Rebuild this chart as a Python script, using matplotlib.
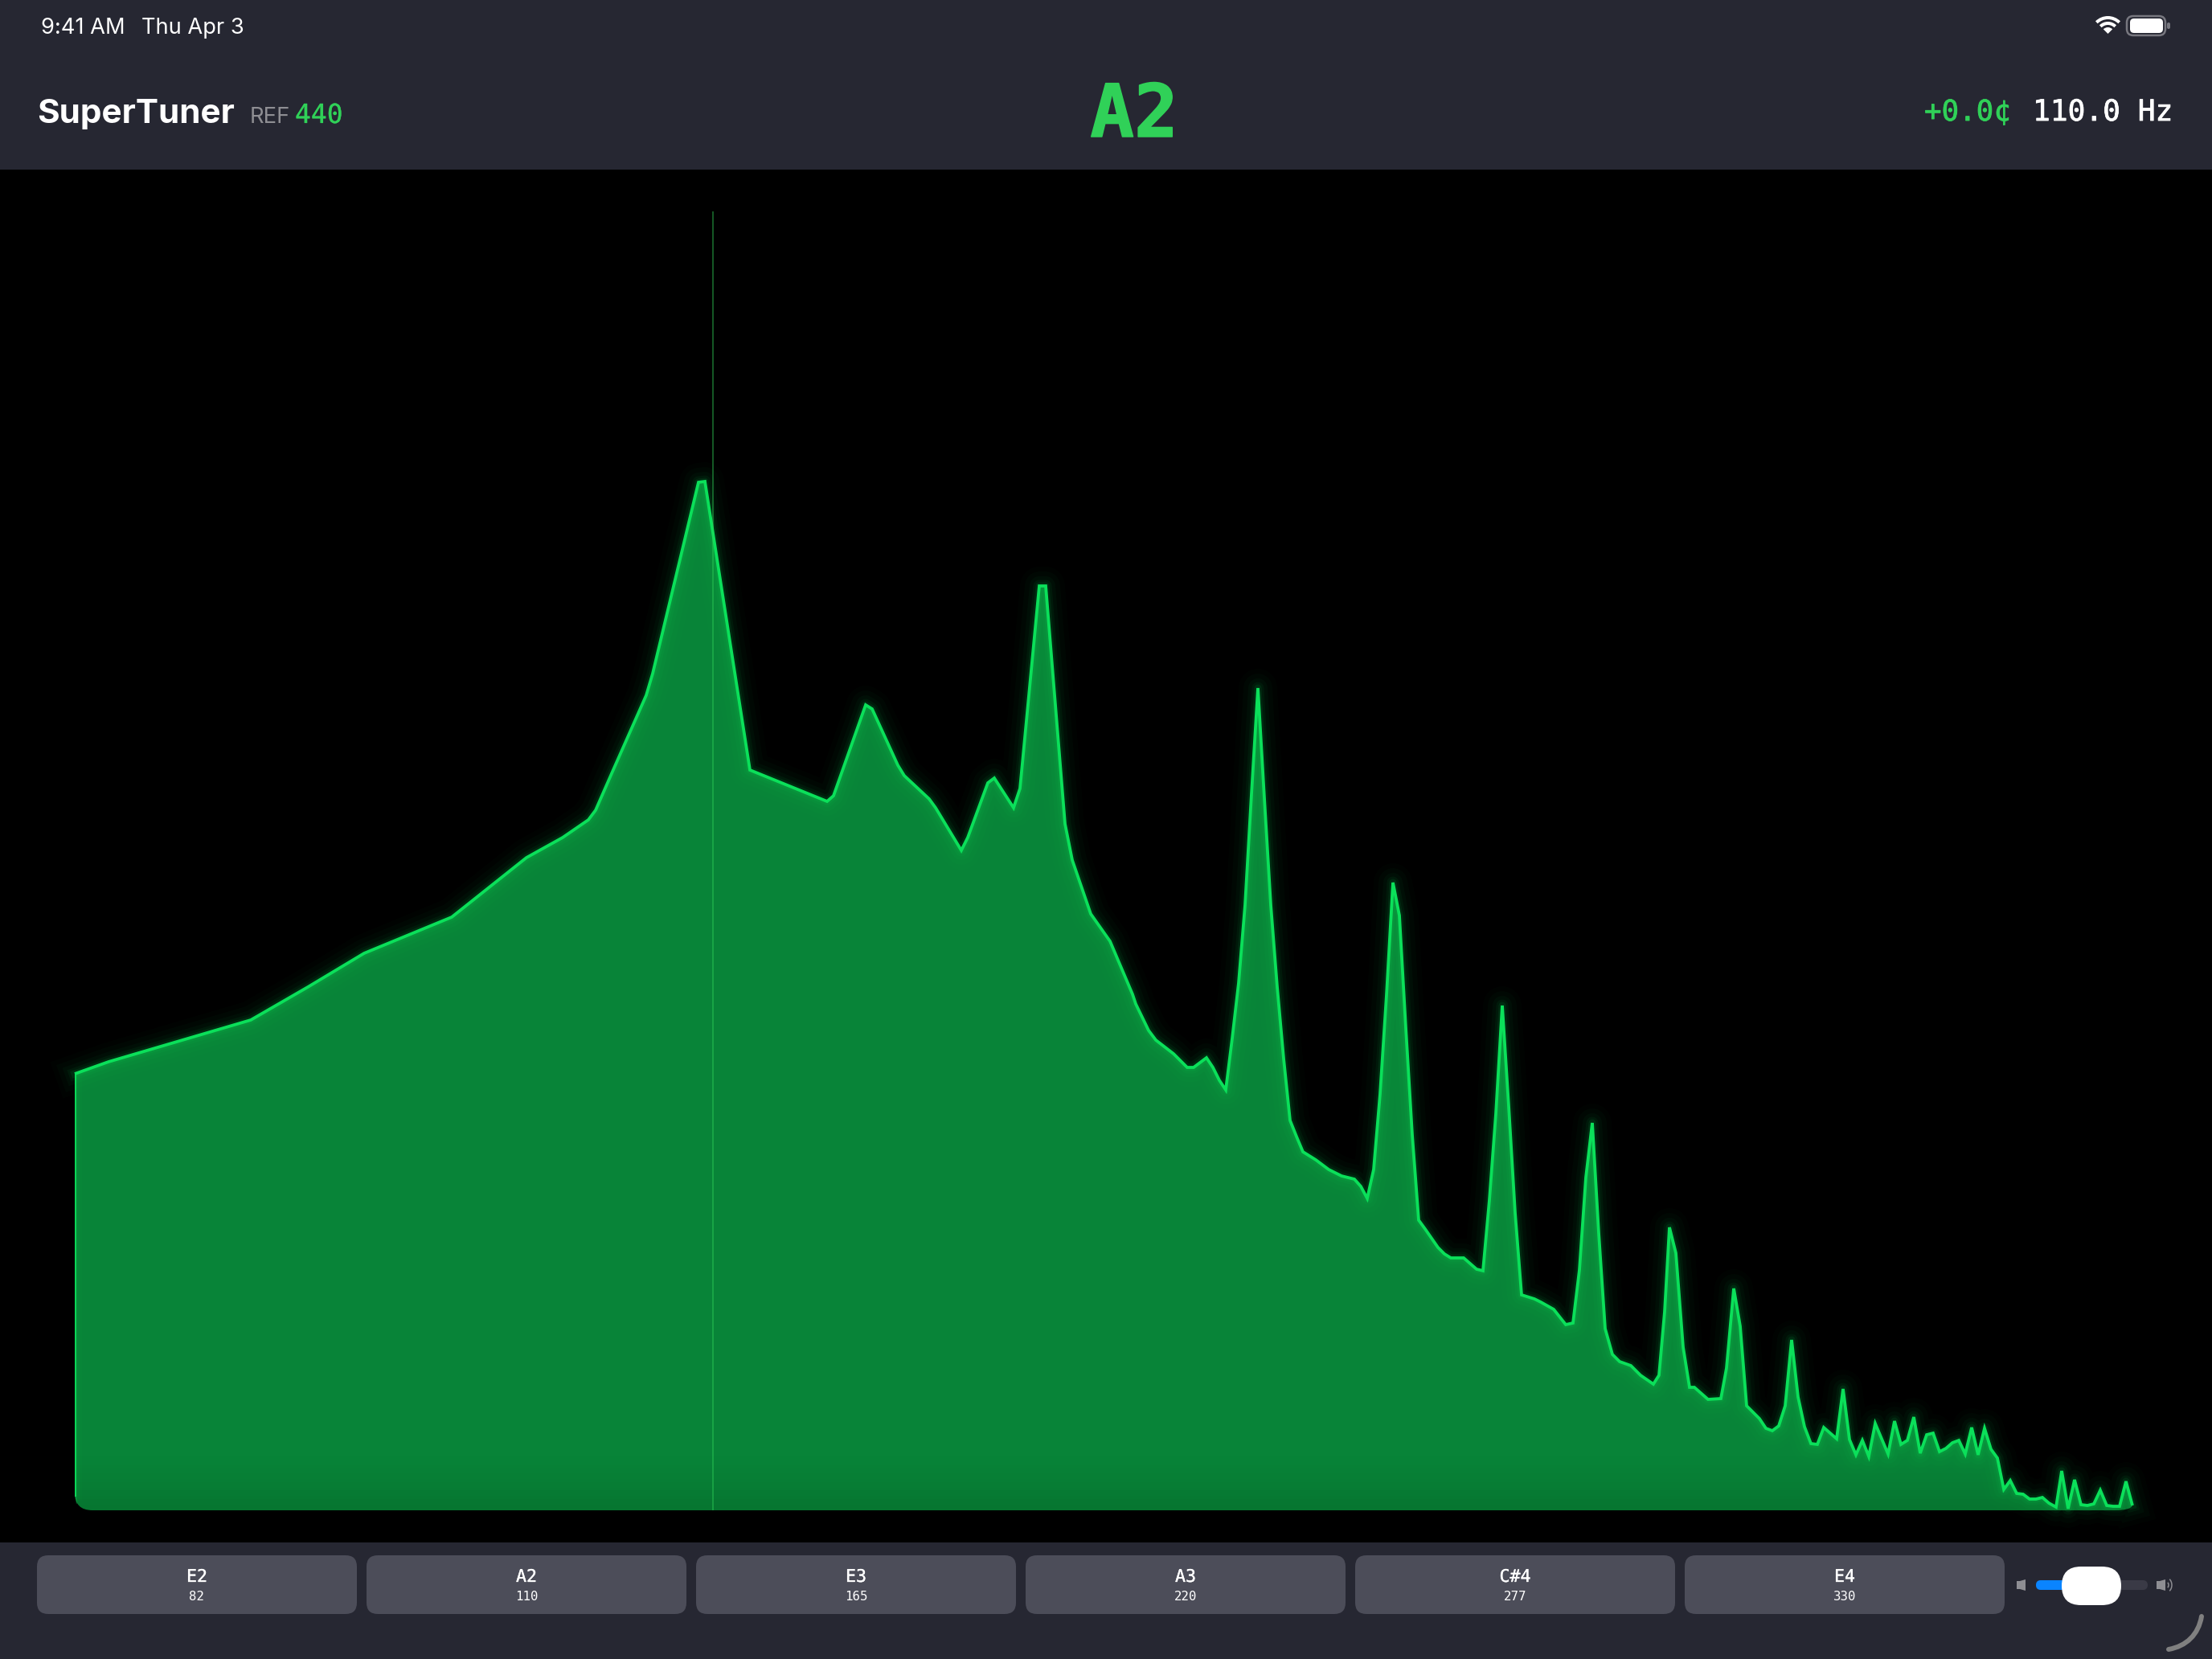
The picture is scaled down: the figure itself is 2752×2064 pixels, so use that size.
#!/usr/bin/env python3
"""SuperTuner spectrum screen: filled spectrum with a cursor at the detected pitch, plus app chrome."""

import numpy as np
import matplotlib

matplotlib.use("Agg")
import matplotlib.pyplot as plt
import matplotlib.patheffects as pe
from matplotlib.colors import LinearSegmentedColormap
from matplotlib.patches import Arc, FancyBboxPatch, PathPatch, Polygon, Rectangle, Wedge
from matplotlib.path import Path

# spectrum: position along the chart and level above the baseline
spec_pos = [
    0, 42, 219, 290, 360, 469, 562, 607, 639, 648, 669, 711, 719, 776, 784, 840, 936, 944, 984, 992,
    1024, 1032, 1063, 1071, 1103, 1111, 1136, 1144, 1168, 1176, 1200, 1208, 1232, 1241, 1264, 1288,
    1316, 1320, 1336, 1345, 1367, 1384, 1392, 1408, 1416, 1424, 1432, 1440, 1448, 1456, 1464, 1472,
    1480, 1488, 1496, 1504, 1512, 1520, 1528, 1544, 1560, 1576, 1584, 1592, 1600, 1608, 1616, 1624,
    1632, 1640, 1648, 1656, 1664, 1672, 1680, 1696, 1704, 1712, 1720, 1728, 1736, 1744, 1752, 1760,
    1768, 1776, 1784, 1792, 1800, 1816, 1824, 1840, 1855, 1864, 1872, 1880, 1888, 1896, 1904, 1913,
    1922, 1936, 1948, 1964, 1971, 1978, 1984, 1992, 2001, 2009, 2015, 2032, 2048, 2055, 2064, 2072,
    2080, 2096, 2104, 2112, 2120, 2128, 2136, 2144, 2152, 2160, 2168, 2176, 2192, 2200, 2208, 2216,
    2224, 2232, 2240, 2256, 2264, 2272, 2280, 2288, 2296, 2304, 2312, 2320, 2328, 2336, 2344, 2352,
    2360, 2368, 2376, 2384, 2392, 2400, 2408, 2416, 2424, 2432, 2440, 2448, 2456, 2465, 2472, 2480,
    2488, 2496, 2504, 2512, 2520, 2528, 2536, 2544, 2552, 2560,
]
spec_level = [
    543, 558, 610, 651, 693, 738, 812, 837, 859, 871, 919, 1014, 1041, 1279, 1280, 921, 882, 889, 1002, 997,
    927, 914, 885, 874, 821, 837, 905, 911, 874, 898, 1150, 1150, 854, 809, 742, 708,
    642, 630, 597, 585, 568, 551, 551, 563, 551, 535, 523, 587, 656, 753, 891, 1023,
    886, 753, 651, 562, 485, 465, 446, 436, 424, 416, 414, 412, 403, 388, 424, 518,
    641, 781, 740, 600, 467, 361, 350, 327, 319, 314, 314, 314, 307, 300, 298, 386,
    493, 628, 503, 370, 268, 263, 259, 250, 231, 233, 299, 414, 482, 345, 226, 194,
    185, 180, 168, 157, 168, 247, 352, 320, 203, 153, 153, 138, 139, 177, 276, 229,
    130, 114, 102, 99, 105, 130, 212, 141, 104, 83, 82, 103, 89, 151, 88, 69,
    87, 67, 108, 70, 111, 82, 87, 116, 71, 94, 96, 73, 77, 84, 87, 70,
    103, 69, 102, 76, 65, 26, 37, 21, 20, 14, 14, 16, 9, 4, 49, 2,
    38, 7, 6, 8, 25, 6, 5, 5, 36, 6,
]
cursor_pos = 794
chart_w = 2560
chart_h = 1616

note_names = ["E2", "A2", "E3", "A3", "C#4", "E4"]
note_freqs = ["82", "110", "165", "220", "277", "330"]

BG = "#262732"
BTN = "#4c4d59"
GREEN = "#30d158"
LINE = "#0be05a"
GRAY = "#8e8e93"
SANS = ["Inter", "DejaVu Sans"]
MONO = ["DejaVu Sans Mono"]
PX = 0.72  # points per pixel at dpi 100

fig = plt.figure(figsize=(27.52, 20.64), dpi=100, facecolor="black")

# chrome is laid out in picture pixels
ui = fig.add_axes([0, 0, 1, 1], zorder=0)
ui.set_xlim(0, 2752)
ui.set_ylim(2064, 0)
ui.axis("off")
ui.add_patch(Rectangle((0, 0), 2752, 211, color=BG, lw=0))
ui.add_patch(Rectangle((0, 1919), 2752, 145, color=BG, lw=0))


def pill(x0, y0, x1, y1, r, color, **kw):
    ui.add_patch(FancyBboxPatch((x0, y0), x1 - x0, y1 - y0, boxstyle=f"round,pad=0,rounding_size={r}",
                                fc=color, ec="none", **kw))


def mono_text(x, y, s, color, size, weight="normal", ha="left", thick=0.0):
    # no medium weight in the mono family, so thicken it a little where needed
    t = ui.text(x, y, s, color=color, fontsize=size * PX, family=MONO, weight=weight, ha=ha, va="baseline")
    if thick:
        t.set_path_effects([pe.withStroke(linewidth=thick * PX, foreground=color)])
    return t


# status bar
ui.text(51, 42, "9:41 AM", color="white", fontsize=27.3 * PX, family=SANS, va="baseline")
ui.text(176, 42, "Thu Apr 3", color="white", fontsize=27.3 * PX, family=SANS, va="baseline")
ui.add_patch(Wedge((2622.5, 42), 8, 225, 315, fc="white", ec="none"))
for r in (13, 20):
    ui.add_patch(Arc((2622.5, 42), 2 * r, 2 * r, theta1=225, theta2=315, color="white", lw=4 * PX))
ui.add_patch(FancyBboxPatch((2646, 20), 48, 24, boxstyle="round,pad=0,rounding_size=8",
                            fc="none", ec="#77777f", lw=2.5 * PX))
pill(2650, 23, 2691, 41, 5, "white")
pill(2696, 28, 2700, 36, 2, "#77777f")

# header
ui.text(46, 153, "SuperTuner", color="white", fontsize=42.2 * PX, family=SANS, weight="bold", va="baseline")
ui.text(311, 153, "REF", color=GRAY, fontsize=27.5 * PX, family=SANS, va="baseline")
mono_text(367, 153, "440", GREEN, 33, thick=0.2)
mono_text(1411, 170, "A2", GREEN, 91, weight="bold", ha="center", thick=1.5)
mono_text(2394, 150, "+0.0¢", GREEN, 35.8, thick=0.8)
mono_text(2704, 150, "110.0 Hz", "white", 36.2, ha="right", thick=0.8)

# string buttons
for i, (name, freq) in enumerate(zip(note_names, note_freqs)):
    x0 = 46 + i * 410
    pill(x0, 1935, x0 + 398, 2008, 14, BTN)
    mono_text(x0 + 199, 1968, name, "white", 21.6, ha="center", thick=0.3)
    mono_text(x0 + 199, 1991, freq, "white", 15.8, ha="center")

# volume slider
pill(2533, 1966, 2672, 1978, 6, "#3a3a46")
pill(2533, 1966, 2590, 1978, 6, "#0a84ff")
pill(2565, 1949, 2639, 1997, 24, "white")
ui.add_patch(Polygon([(2509, 1967), (2513, 1967), (2520, 1965), (2520, 1979), (2513, 1977), (2509, 1977)],
                     fc=GRAY, ec="none"))
ui.add_patch(Polygon([(2683, 1967), (2687, 1967), (2694, 1965), (2694, 1979), (2687, 1977), (2683, 1977)],
                     fc=GRAY, ec="none"))
for r in (3, 7):
    ui.add_patch(Arc((2695, 1972), 2 * r, 2.6 * r, theta1=-60, theta2=60, color=GRAY, lw=1.5 * PX))
ui.add_patch(PathPatch(Path([(2739, 2011), (2735, 2034), (2720, 2048), (2698, 2052)],
                            [Path.MOVETO, Path.CURVE4, Path.CURVE4, Path.CURVE4]),
                       fc="none", ec="#808080", lw=6 * PX, capstyle="round"))

# spectrum
ax = fig.add_axes([93 / 2752, (2064 - 1879) / 2064, chart_w / 2752, chart_h / 2064], zorder=1)
ax.axis("off")
ax.patch.set_alpha(0)

xs = np.array(spec_pos, dtype=float)
ys = np.array(spec_level, dtype=float)

# fill outline, bottom corners rounded
verts = list(zip(xs, ys)) + [(chart_w - 2, 0), (chart_w - 22, 0), (22, 0), (0, 0), (0, 22), (0, ys[0])]
codes = [Path.MOVETO] + [Path.LINETO] * (len(xs) - 1)
codes += [Path.CURVE3, Path.CURVE3, Path.LINETO, Path.CURVE3, Path.CURVE3, Path.LINETO]
clip = PathPatch(Path(verts, codes), transform=ax.transData, fc="none", ec="none")
ax.add_patch(clip)

cmap = LinearSegmentedColormap.from_list(
    "spec_fill", [(0, "#088439"), (0.955, "#088438"), (0.985, "#077c34"), (1, "#067630")])
grad = np.linspace(0, 1, 400).reshape(-1, 1)
im = ax.imshow(grad, extent=(0, chart_w, 0, 1400), origin="upper", aspect="auto", cmap=cmap, zorder=1)
im.set_clip_path(clip)
ax.set_xlim(0, chart_w)
ax.set_ylim(0, chart_h)

# soft glow around the trace
for w, a in ((48, 0.015), (36, 0.022), (24, 0.035), (15, 0.055), (9, 0.09)):
    ax.plot(xs, ys, color=LINE, lw=w * PX, alpha=a, solid_joinstyle="round", clip_on=False, zorder=2)
ax.plot(xs, ys, color=LINE, lw=3.8 * PX, solid_joinstyle="miter", solid_capstyle="butt", clip_on=False, zorder=3)

# left edge: thin line fading out into the corner, faint inner glow
for w, a in ((16, 0.025), (10, 0.03), (5, 0.05)):
    line, = ax.plot([1, 1], [20, ys[0]], color=LINE, lw=w * PX, alpha=a, zorder=2)
    line.set_clip_path(clip)
ax.plot([1, 1], [18, ys[0]], color=LINE, lw=2 * PX, alpha=0.9, zorder=3)
ax.plot([1, 2.5], [18, 9], color=LINE, lw=1.5 * PX, alpha=0.3, zorder=3)

ax.vlines(cursor_pos, 0, chart_h, color=GREEN, lw=2 * PX, alpha=0.42, zorder=4)

fig.savefig("out.png", dpi=100, facecolor="black")
